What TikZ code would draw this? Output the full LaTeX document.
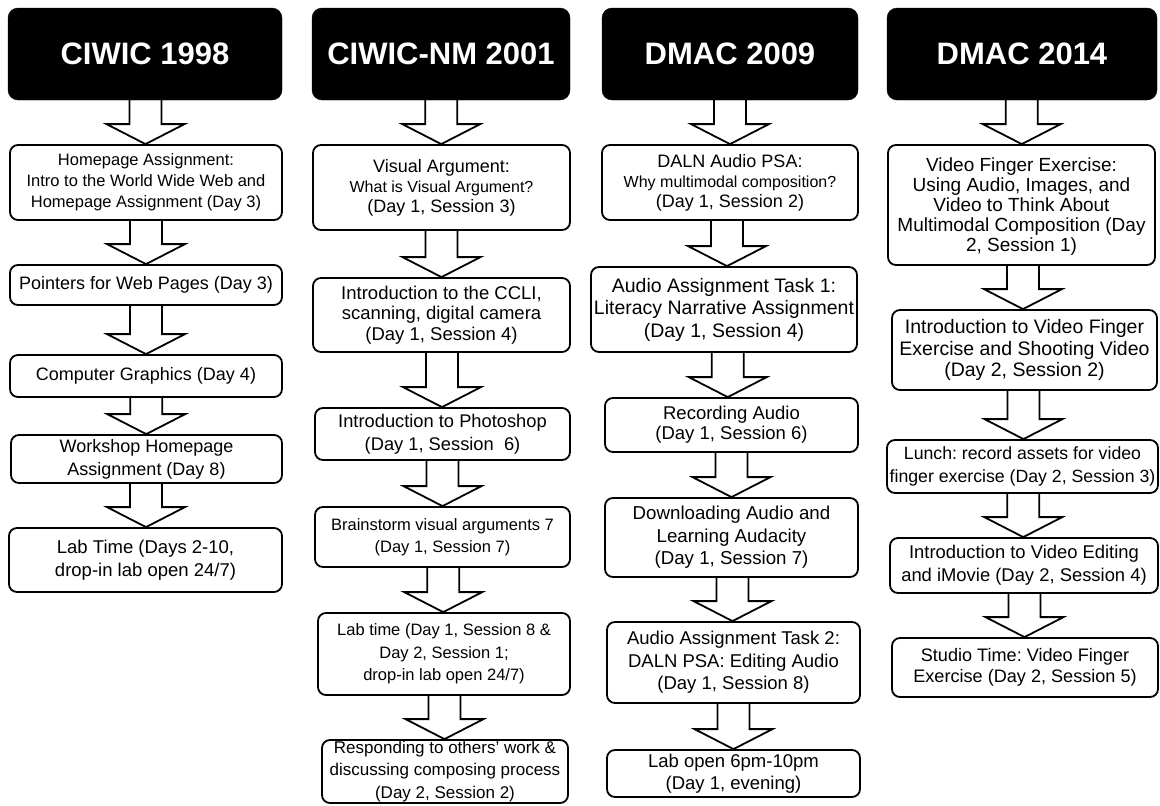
\documentclass[tikz,border=0pt]{standalone}
\usepackage{fontspec}
\setmainfont{Liberation Sans}
\usetikzlibrary{calc,backgrounds}
\frenchspacing
\newcommand{\fsz}[2]{\fontsize{#1pt}{#2pt}\selectfont}
\tikzset{
  hdr/.style={fill=black, draw=black, rounded corners=10pt, text=white,
    font=\bfseries\fsz{31}{36}, inner sep=0pt},
  box/.style={draw=black, line width=1.8pt, rounded corners=8pt, fill=white,
    align=center, inner sep=0pt, font=\fsz{18}{21.5}},
  barrow/.style={draw=black, line width=1.8pt, fill=white, line join=miter},
}
\newcommand{\barrow}[2]{%
  \draw[barrow] let \p1=(#1.south), \p2=(#2.north), \p3=($(#1.south)!0.5!(#2.north)$) in
    (\x3-16pt,\y1) -- (\x3-16pt,\y2+20pt) -- (\x3-39pt,\y2+20pt) -- (\x3,\y2)
    -- (\x3+39pt,\y2+20pt) -- (\x3+16pt,\y2+20pt) -- (\x3+16pt,\y1);}
\begin{document}
\begin{tikzpicture}[x=1pt,y=-1pt]
\useasboundingbox (0,0) rectangle (1160,806);
% column 1
\node[hdr, minimum width=274pt, minimum height=92pt] (h1) at (145,54) {CIWIC 1998};
\node[box, minimum width=272pt, minimum height=75pt, font=\fsz{16.5}{21}] (a1) at (146,182.5) {Homepage Assignment:\\Intro to the World Wide Web and\\Homepage Assignment (Day 3)};
\node[box, minimum width=272pt, minimum height=40pt] (a2) at (146,285) {Pointers for Web Pages (Day 3)};
\node[box, minimum width=272pt, minimum height=42pt] (a3) at (146,376) {Computer Graphics (Day 4)};
\node[box, minimum width=271pt, minimum height=48pt, font=\fsz{18}{23}] (a4) at (146.5,459) {Workshop Homepage\\Assignment (Day 8)};
\node[box, minimum width=273pt, minimum height=64pt, font=\fsz{18.5}{23}] (a5) at (145.5,560) {Lab Time (Days 2-10,\\drop-in lab open 24/7)};
% column 2
\node[hdr, minimum width=258pt, minimum height=92pt] (h2) at (441,54) {CIWIC-NM 2001};
\node[box, minimum width=257pt, minimum height=85pt, font=\fsz{18}{20}] (b1) at (441.5,187.5) {Visual Argument:\\{\fsz{16}{20}What is Visual Argument?}\\(Day 1, Session 3)};
\node[box, minimum width=257pt, minimum height=74pt, font=\fsz{18.5}{20.5}] (b2) at (441.5,315) {Introduction to the CCLI,\\scanning, digital camera\\(Day 1, Session 4)};
\node[box, minimum width=255pt, minimum height=52pt, font=\fsz{18.3}{23}] (b3) at (442.5,434) {Introduction to Photoshop\\(Day 1, Session\ \ 6)};
\node[box, minimum width=255pt, minimum height=60pt, font=\fsz{16.5}{22}] (b4) at (442.5,537) {Brainstorm visual arguments 7\\(Day 1, Session 7)};
\node[box, minimum width=252pt, minimum height=82pt, font=\fsz{16.5}{22.5}] (b5) at (444,654) {Lab time (Day 1, Session 8 \&\\Day 2, Session 1;\\drop-in lab open 24/7)};
\node[box, minimum width=246pt, minimum height=63pt, font=\fsz{17}{22.5}] (b6) at (445,771.5) {Responding to others' work \&\\discussing composing process\\(Day 2, Session 2)};
% column 3
\node[hdr, minimum width=256pt, minimum height=92pt] (h3) at (730,54) {DMAC 2009};
\node[box, minimum width=256pt, minimum height=75pt, font=\fsz{18}{20}] (c1) at (730,182.5) {DALN Audio PSA:\\{\fsz{16}{20}Why multimodal composition?}\\(Day 1, Session 2)};
\node[box, minimum width=266pt, minimum height=85pt, font=\fsz{19.5}{22.5}] (c2) at (724,309.5) {Audio Assignment Task 1:\\Literacy Narrative Assignment\\(Day 1, Session 4)};
\node[box, minimum width=253pt, minimum height=54pt, font=\fsz{18.5}{20}] (c3) at (731.5,425) {Recording Audio\\(Day 1, Session 6)};
\node[box, minimum width=253pt, minimum height=79pt, font=\fsz{18.7}{22.5}] (c4) at (731.5,537.5) {Downloading Audio and\\Learning Audacity\\(Day 1, Session 7)};
\node[box, minimum width=253pt, minimum height=81pt, font=\fsz{18.5}{22.5}] (c5) at (733.5,662.5) {Audio Assignment Task 2:\\DALN PSA: Editing Audio\\(Day 1, Session 8)};
\node[box, minimum width=253pt, minimum height=47pt, font=\fsz{18.5}{22}] (c6) at (733.5,773.5) {Lab open 6pm-10pm\\(Day 1, evening)};
% column 4
\node[hdr, minimum width=270pt, minimum height=92pt] (h4) at (1022,54) {DMAC 2014};
\node[box, minimum width=267pt, minimum height=120pt, font=\fsz{19}{20}, text depth=0pt] (d1) at (1021.5,205) {Video Finger Exercise:\\Using Audio, Images, and\\Video to Think About\\Multimodal Composition (Day\\2, Session 1)};
\node[box, minimum width=265pt, minimum height=80pt, font=\fsz{19.5}{21.5}] (d2) at (1024.5,350) {Introduction to Video Finger\\Exercise and Shooting Video\\(Day 2, Session 2)};
\node[box, minimum width=271pt, minimum height=53pt, font=\fsz{17.7}{23}] (d3) at (1022.5,466.5) {Lunch: record assets for video\\finger exercise (Day 2, Session 3)};
\node[box, minimum width=268pt, minimum height=55pt, font=\fsz{18.4}{23}] (d4) at (1024,565.5) {Introduction to Video Editing\\and iMovie (Day 2, Session 4)};
\node[box, minimum width=266pt, minimum height=59pt, font=\fsz{18.1}{21}] (d5) at (1025,667.5) {Studio Time: Video Finger\\Exercise (Day 2, Session 5)};
\begin{scope}[on background layer]
  \fill[white] (0,0) rectangle (1160,806);
  \barrow{h1}{a1}\barrow{a1}{a2}\barrow{a2}{a3}\barrow{a3}{a4}\barrow{a4}{a5}
  \barrow{h2}{b1}\barrow{b1}{b2}\barrow{b2}{b3}\barrow{b3}{b4}\barrow{b4}{b5}\barrow{b5}{b6}
  \barrow{h3}{c1}\barrow{c1}{c2}\barrow{c2}{c3}\barrow{c3}{c4}\barrow{c4}{c5}\barrow{c5}{c6}
  \barrow{h4}{d1}\barrow{d1}{d2}\barrow{d2}{d3}\barrow{d3}{d4}\barrow{d4}{d5}
\end{scope}
\end{tikzpicture}
\end{document}
